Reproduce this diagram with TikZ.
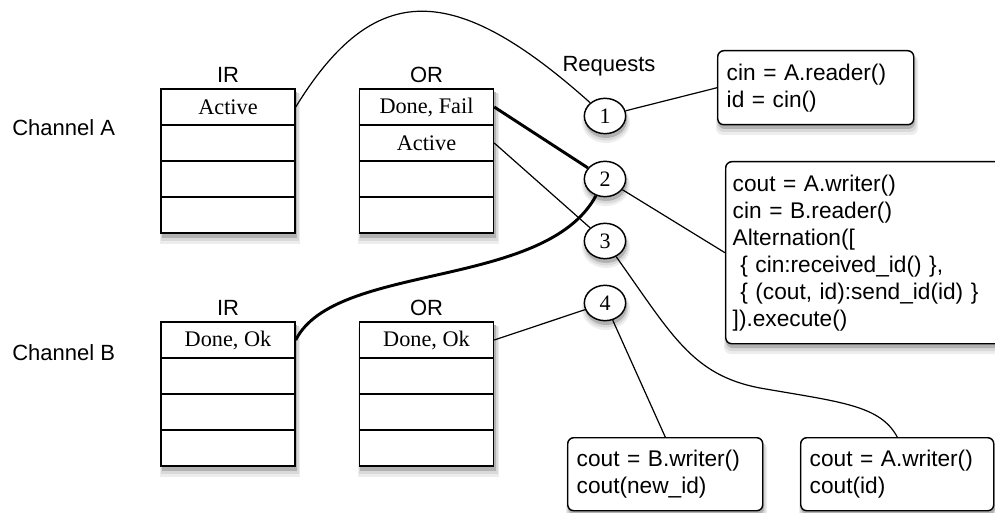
\documentclass[tikz,border=0pt]{standalone}
\usepackage{fontspec}
\setmainfont{Liberation Serif}
\setsansfont{Liberation Sans}
\usetikzlibrary{shapes.geometric}
% soft shadow under a box, corners in picture units (x1,y1 top left; x2,y2 bottom right)
\newcommand\myboxshadow[5]{%
  \fill[black!7, rounded corners=#5] (#1-1,#2+5) rectangle (#3+5,#4+11);
  \fill[black!15, rounded corners=#5] (#1,#2+4) rectangle (#3+3.5,#4+8);
  \fill[black!30, rounded corners=#5] (#1+1,#2+3) rectangle (#3+2,#4+5);}
\newcommand\myellshadow[2]{%
  \fill[black!7] (#1+1,#2+6) ellipse (24 and 21);
  \fill[black!15] (#1+1,#2+5) ellipse (22.5 and 19.5);
  \fill[black!30] (#1+1,#2+4) ellipse (21 and 18);}
\begin{document}
\begin{tikzpicture}[x=0.75pt,y=-0.75pt,
  lab/.style={font=\sffamily\fontsize{16.5}{20}\selectfont, inner sep=0},
  cell/.style={draw, fill=white, line width=1.1pt, minimum width=100.5pt, minimum height=27pt, inner sep=0,
               font=\fontsize{16.7}{20}\selectfont},
  req/.style={ellipse, draw, line width=1.1pt, fill=white, minimum width=31pt, minimum height=26.5pt,
              inner sep=0, font=\fontsize{16.5}{20}\selectfont},
  code/.style={draw, rounded corners=4.5pt, line width=1.1pt, fill=white, align=left, anchor=north west,
               inner ysep=0, font=\sffamily\fontsize{17}{20.25}\selectfont},
  wire/.style={line width=0.9pt},
  thickwire/.style={line width=2.2pt}]
\useasboundingbox (0,0) rectangle (995,513);
\clip (0,0) rectangle (995,513);

% shadows
\myboxshadow{161}{89}{295}{233}{0pt}
\myboxshadow{359}{89}{494}{233}{0pt}
\myboxshadow{161}{322}{295}{466}{0pt}
\myboxshadow{359}{322}{494}{466}{0pt}
\myboxshadow{717}{50}{913}{124}{5pt}
\myboxshadow{725}{161}{1015}{343}{5pt}
\myboxshadow{567}{437}{762}{510}{5pt}
\myboxshadow{800}{437}{993}{510}{5pt}
\myellshadow{605}{116}
\myellshadow{605}{179}
\myellshadow{605}{241}
\myellshadow{605}{303}

% labels
\node[lab, anchor=west] (chA) at (12,128) {Channel A};
\node[lab, anchor=west] (chB) at (12,353) {Channel B};
\node[lab] (irAl) at (228,75) {IR};
\node[lab] (orAl) at (426.5,75) {OR};
\node[lab] (irBl) at (228,308) {IR};
\node[lab] (orBl) at (426.5,308) {OR};
\node[lab] (reql) at (609,66) {Requests};

% channel A blocks
\node[cell] (irA1) at (228,107) {Active};
\node[cell] (irA2) at (228,143) {};
\node[cell] (irA3) at (228,179) {};
\node[cell] (irA4) at (228,215) {};
\node[cell] (orA1) at (426.5,107) {Done, Fail};
\node[cell] (orA2) at (426.5,143) {Active};
\node[cell] (orA3) at (426.5,179) {};
\node[cell] (orA4) at (426.5,215) {};

% channel B blocks
\node[cell] (irB1) at (228,340) {Done, Ok};
\node[cell] (irB2) at (228,376) {};
\node[cell] (irB3) at (228,412) {};
\node[cell] (irB4) at (228,448) {};
\node[cell] (orB1) at (426.5,340) {Done, Ok};
\node[cell] (orB2) at (426.5,376) {};
\node[cell] (orB3) at (426.5,412) {};
\node[cell] (orB4) at (426.5,448) {};

% requests
\node[req] (c1) at (605,116) {1};
\node[req] (c2) at (605,179) {2};
\node[req] (c3) at (605,241) {3};
\node[req] (c4) at (605,303) {4};

% code boxes
\node[code, minimum width=147pt, minimum height=55.5pt, text width=133.5pt, inner xsep=6.75pt]
  (box1) at (717,50) {cin = A.reader()\\id = cin()};
\node[code, minimum width=217.5pt, minimum height=136.5pt, text width=207pt, inner xsep=5.25pt]
  (big) at (725,161) {cout = A.writer()\\cin = B.reader()\\Alternation([\\
  \ \{ cin:received\_id() \},\\ \ \{ (cout, id):send\_id(id) \}\\]).execute()};
\node[code, minimum width=146.25pt, minimum height=54.75pt, text width=132.75pt, inner xsep=6.75pt]
  (bwr) at (567,437) {cout = B.writer()\\cout(new\_id)};
\node[code, minimum width=144.75pt, minimum height=54.75pt, text width=131.25pt, inner xsep=6.75pt]
  (awr) at (800,437) {cout = A.writer()\\cout(id)};

% connectors
\draw[wire] (irA1.east) .. controls (375,-22) and (455,-18) .. (c1);
\draw[thickwire] (orA1.east) -- (c2);
\draw[wire] (orA2.east) -- (c3);
\draw[thickwire] (irB1.east) .. controls (335,262) and (545,290) .. (c2);
\draw[wire] (orB1.east) -- (c4);
\draw[wire] (c1) -- (box1.west);
\draw[wire] (c2) -- (big.west);
\draw[wire] (c3) .. controls (672,335) and (692,375) .. (760,388)
                 .. controls (840,402) and (880,405) .. (awr.north);
\draw[wire] (c4) -- (bwr.north);
\end{tikzpicture}
\end{document}
